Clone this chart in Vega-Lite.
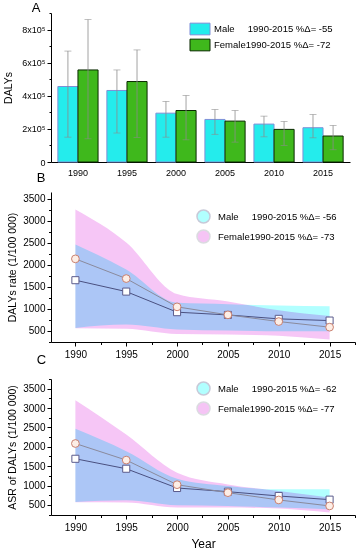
{
  "$schema": "https://vega.github.io/schema/vega-lite/v6.json",
  "padding": {"top": 2, "left": 3, "right": 0, "bottom": 0},
  "spacing": -5,
  "columns": 1,
  "align": "none",
  "resolve": {"scale": {"fill": "independent", "stroke": "independent", "shape": "independent"}, "legend": {"fill": "independent", "stroke": "independent", "shape": "independent"}},
  "config": {
    "font": "Liberation Sans",
    "view": {"stroke": null},
    "axis": {"labelFont": "Liberation Sans", "titleFont": "Liberation Sans", "titleFontWeight": "normal", "labelColor": "#000", "titleColor": "#000", "domainColor": "#000", "tickColor": "#000", "grid": false, "labelFontSize": 10, "titleFontSize": 10.5, "labelOverlap": false},
    "title": {"font": "Liberation Sans", "fontWeight": "normal", "fontSize": 13, "color": "#000", "anchor": "start", "frame": "bounds"}
  },
  "datasets": {
    "bars": [
      {"year": 1990, "sex": "Male", "v": 456000, "lo": 150000, "hi": 670000},
      {"year": 1990, "sex": "Female", "v": 556000, "lo": 140000, "hi": 860000},
      {"year": 1995, "sex": "Male", "v": 432000, "lo": 175000, "hi": 556000},
      {"year": 1995, "sex": "Female", "v": 486000, "lo": 149000, "hi": 677000},
      {"year": 2000, "sex": "Male", "v": 295000, "lo": 150000, "hi": 366000},
      {"year": 2000, "sex": "Female", "v": 311000, "lo": 134000, "hi": 402000},
      {"year": 2005, "sex": "Male", "v": 257000, "lo": 167000, "hi": 317000},
      {"year": 2005, "sex": "Female", "v": 247000, "lo": 120000, "hi": 311000},
      {"year": 2010, "sex": "Male", "v": 229000, "lo": 152000, "hi": 277000},
      {"year": 2010, "sex": "Female", "v": 197000, "lo": 100000, "hi": 245000},
      {"year": 2015, "sex": "Male", "v": 207000, "lo": 146000, "hi": 287000},
      {"year": 2015, "sex": "Female", "v": 157000, "lo": 74000, "hi": 221000}
    ],
    "rate": [
      {"year": 1990, "sex_rate": "Male", "v": 1645, "lo": 561, "hi": 2455},
      {"year": 1995, "sex_rate": "Male", "v": 1386, "lo": 636, "hi": 1886},
      {"year": 2000, "sex_rate": "Male", "v": 918, "lo": 523, "hi": 1130},
      {"year": 2005, "sex_rate": "Male", "v": 855, "lo": 500, "hi": 1100},
      {"year": 2010, "sex_rate": "Male", "v": 766, "lo": 485, "hi": 1070},
      {"year": 2015, "sex_rate": "Male", "v": 727, "lo": 485, "hi": 1050},
      {"year": 1990, "sex_rate": "Female", "v": 2130, "lo": 550, "hi": 3250},
      {"year": 1995, "sex_rate": "Female", "v": 1682, "lo": 540, "hi": 2500},
      {"year": 2000, "sex_rate": "Female", "v": 1039, "lo": 420, "hi": 1330},
      {"year": 2005, "sex_rate": "Female", "v": 857, "lo": 410, "hi": 1160},
      {"year": 2010, "sex_rate": "Female", "v": 705, "lo": 380, "hi": 960},
      {"year": 2015, "sex_rate": "Female", "v": 577, "lo": 296, "hi": 830}
    ],
    "asr": [
      {"year": 1990, "sex_asr": "Male", "v": 1691, "lo": 577, "hi": 2463},
      {"year": 1995, "sex_asr": "Male", "v": 1434, "lo": 618, "hi": 1888},
      {"year": 2000, "sex_asr": "Male", "v": 937, "lo": 490, "hi": 1177},
      {"year": 2005, "sex_asr": "Male", "v": 842, "lo": 474, "hi": 988},
      {"year": 2010, "sex_asr": "Male", "v": 731, "lo": 431, "hi": 902},
      {"year": 2015, "sex_asr": "Male", "v": 636, "lo": 387, "hi": 902},
      {"year": 1990, "sex_asr": "Female", "v": 2085, "lo": 566, "hi": 3201},
      {"year": 1995, "sex_asr": "Female", "v": 1657, "lo": 560, "hi": 2316},
      {"year": 2000, "sex_asr": "Female", "v": 1022, "lo": 431, "hi": 1331},
      {"year": 2005, "sex_asr": "Female", "v": 816, "lo": 431, "hi": 1030},
      {"year": 2010, "sex_asr": "Female", "v": 628, "lo": 405, "hi": 860},
      {"year": 2015, "sex_asr": "Female", "v": 474, "lo": 302, "hi": 690}
    ]
  },
  "concat": [
    {
      "title": {"text": "A", "dx": 28, "offset": -6},
      "width": 299,
      "height": 149,
      "data": {"name": "bars"},
      "encoding": {
        "x": {"field": "year", "type": "ordinal", "scale": {"paddingInner": 0.18, "paddingOuter": 0.14},
              "axis": {"title": null, "labelAngle": 0, "ticks": false, "labelFontSize": 9, "labelPadding": 6}},
        "xOffset": {"field": "sex", "type": "nominal", "sort": ["Male", "Female"]}
      },
      "layer": [
        {
          "mark": {"type": "bar", "strokeWidth": 1},
          "encoding": {
            "y": {"field": "v", "type": "quantitative", "scale": {"domain": [0, 900000]},
                  "axis": {"title": "DALYs", "labelOverlap": false, "tickCount": 100, "values": [0, 100000, 200000, 300000, 400000, 500000, 600000, 700000, 800000, 900000],
                           "labelExpr": "datum.value == 0 ? '0' : (datum.value % 200000 == 0 ? (datum.value/100000) + 'x10⁵' : '')",
                           "tickSize": {"condition": {"test": "datum.value % 200000 == 0", "value": 4}, "value": 2},
                           "labelFontSize": 9, "titlePadding": 8}},
            "fill": {"field": "sex", "type": "nominal", "scale": {"domain": ["Male", "Female"], "range": ["#24ecec", "#3fb81c"]},
                     "legend": {"orient": "none", "legendX": 142, "legendY": 9, "title": null, "symbolSize": 169, "symbolStrokeWidth": 1, "labelFontSize": 9.5, "labelColor": "#000", "rowPadding": 0, "labelOffset": 7,
                                "labelExpr": "datum.value == 'Male' ? 'Male\u00a0\u00a0\u00a0\u00a0\u00a01990-2015 %Δ= -55' : 'Female1990-2015 %Δ= -72'",
                                "encode": {"symbols": {"update": {
                                  "shape": {"value": "M-1.54,-0.9H1.54V0.9H-1.54Z"},
                                  "strokeWidth": {"value": 1}
                                }}}}},
            "stroke": {"field": "sex", "type": "nominal", "scale": {"domain": ["Male", "Female"], "range": ["#7f8fd8", "#0a2a00"]}, "legend": null}
          }
        },
        {
          "mark": {"type": "rule", "color": "#8c8c8c", "strokeWidth": 0.8},
          "encoding": {"y": {"field": "lo", "type": "quantitative"}, "y2": {"field": "hi"}}
        },
        {
          "mark": {"type": "tick", "color": "#8c8c8c", "thickness": 0.8, "size": 7},
          "encoding": {"y": {"field": "hi", "type": "quantitative"}}
        },
        {
          "mark": {"type": "tick", "color": "#8c8c8c", "thickness": 0.8, "size": 7},
          "encoding": {"y": {"field": "lo", "type": "quantitative"}}
        }
      ]
    },
    {
      "title": {"text": "B", "dx": 29, "offset": 0, "dy": -7},
      "width": 304,
      "height": 150,
      "data": {"name": "rate"},
      "encoding": {
        "x": {"field": "year", "type": "quantitative", "scale": {"domain": [1987.6, 2017.5], "nice": false, "zero": false},
              "axis": {"title": null, "format": "d", "labelOverlap": false, "tickCount": 100, "values": [1990, 1992.5, 1995, 1997.5, 2000, 2002.5, 2005, 2007.5, 2010, 2012.5, 2015, 2017.5],
                       "labelExpr": "datum.value % 5 == 0 ? datum.label : ''",
                       "tickSize": {"condition": {"test": "datum.value % 5 == 0", "value": 4}, "value": 2.5}, "labelPadding": 3}}
      },
      "layer": [
        {
          "mark": {"type": "area", "interpolate": "monotone", "opacity": 0.3, "blend": "multiply"},
          "encoding": {
            "y": {"field": "lo", "type": "quantitative", "scale": {"domain": [240, 3650], "nice": false, "zero": false},
                  "axis": {"title": "DALYs rate (1/100 000)", "labelOverlap": false, "tickCount": 100, "values": [250, 500, 750, 1000, 1250, 1500, 1750, 2000, 2250, 2500, 2750, 3000, 3250, 3500],
                           "labelExpr": "datum.value % 500 == 0 ? datum.label : ''", "format": "d",
                           "tickSize": {"condition": {"test": "datum.value % 500 == 0", "value": 4}, "value": 2.5}, "titlePadding": 5}},
            "y2": {"field": "hi"},
            "fill": {"field": "sex_rate", "type": "nominal", "scale": {"domain": ["Male", "Female"], "range": ["#00ffff", "#e040e0"]},
                     "legend": {"orient": "none", "legendX": 145, "legendY": 17, "title": null, "symbolSize": 169, "labelFontSize": 9.5, "labelColor": "#000", "rowPadding": 1, "labelOffset": 7,
                                "labelExpr": "datum.value == 'Male' ? 'Male\u00a0\u00a0\u00a0\u00a0\u00a01990-2015 %Δ= -56' : 'Female1990-2015 %Δ= -73'"}}
          }
        },
        {
          "mark": {"type": "line", "strokeWidth": 1},
          "encoding": {
            "y": {"field": "v", "type": "quantitative"},
            "stroke": {"field": "sex_rate", "type": "nominal", "scale": {"domain": ["Male", "Female"], "range": ["#4a5080", "#8a8a9c"]}, "legend": null}
          }
        },
        {
          "transform": [{"filter": "datum.sex_rate === 'Male'"}],
          "mark": {"type": "point", "shape": "square", "filled": true, "fill": "#ffffff", "stroke": "#5b5b8c", "size": 50, "strokeWidth": 1, "opacity": 1},
          "encoding": {"y": {"field": "v", "type": "quantitative"}}
        },
        {
          "transform": [{"filter": "datum.sex_rate === 'Female'"}],
          "mark": {"type": "point", "shape": "circle", "filled": true, "fill": "#fdeee6", "stroke": "#c98070", "size": 60, "strokeWidth": 1, "opacity": 1},
          "encoding": {"y": {"field": "v", "type": "quantitative"}}
        }
      ]
    },
    {
      "title": {"text": "C", "dx": 29, "offset": 7},
      "width": 304,
      "height": 136,
      "data": {"name": "asr"},
      "encoding": {
        "x": {"field": "year", "type": "quantitative", "scale": {"domain": [1987.6, 2017.5], "nice": false, "zero": false},
              "axis": {"title": "Year", "titleFontSize": 12, "titlePadding": 6, "format": "d", "labelOverlap": false, "tickCount": 100, "values": [1990, 1992.5, 1995, 1997.5, 2000, 2002.5, 2005, 2007.5, 2010, 2012.5, 2015, 2017.5],
                       "labelExpr": "datum.value % 5 == 0 ? datum.label : ''",
                       "tickSize": {"condition": {"test": "datum.value % 5 == 0", "value": 4}, "value": 2.5}, "labelPadding": 3}}
      },
      "layer": [
        {
          "mark": {"type": "area", "interpolate": "monotone", "opacity": 0.3, "blend": "multiply"},
          "encoding": {
            "y": {"field": "lo", "type": "quantitative", "scale": {"domain": [240, 3750], "nice": false, "zero": false},
                  "axis": {"title": "ASR of DALYs (1/100 000)", "labelOverlap": false, "format": "d", "tickCount": 100, "values": [250, 500, 750, 1000, 1250, 1500, 1750, 2000, 2250, 2500, 2750, 3000, 3250, 3500, 3750],
                           "labelExpr": "datum.value % 500 == 0 ? datum.label : ''",
                           "tickSize": {"condition": {"test": "datum.value % 500 == 0", "value": 4}, "value": 2.5}, "titlePadding": 5}},
            "y2": {"field": "hi"},
            "fill": {"field": "sex_asr", "type": "nominal", "scale": {"domain": ["Male", "Female"], "range": ["#00ffff", "#e040e0"]},
                     "legend": {"orient": "none", "legendX": 145, "legendY": 2, "title": null, "symbolSize": 169, "labelFontSize": 9.5, "labelColor": "#000", "rowPadding": 1, "labelOffset": 7,
                                "labelExpr": "datum.value == 'Male' ? 'Male\u00a0\u00a0\u00a0\u00a0\u00a01990-2015 %Δ= -62' : 'Female1990-2015 %Δ= -77'"}}
          }
        },
        {
          "mark": {"type": "line", "strokeWidth": 1},
          "encoding": {
            "y": {"field": "v", "type": "quantitative"},
            "stroke": {"field": "sex_asr", "type": "nominal", "scale": {"domain": ["Male", "Female"], "range": ["#4a5080", "#8a8a9c"]}, "legend": null}
          }
        },
        {
          "transform": [{"filter": "datum.sex_asr === 'Male'"}],
          "mark": {"type": "point", "shape": "square", "filled": true, "fill": "#ffffff", "stroke": "#5b5b8c", "size": 50, "strokeWidth": 1, "opacity": 1},
          "encoding": {"y": {"field": "v", "type": "quantitative"}}
        },
        {
          "transform": [{"filter": "datum.sex_asr === 'Female'"}],
          "mark": {"type": "point", "shape": "circle", "filled": true, "fill": "#fdeee6", "stroke": "#c98070", "size": 60, "strokeWidth": 1, "opacity": 1},
          "encoding": {"y": {"field": "v", "type": "quantitative"}}
        }
      ]
    }
  ]
}
